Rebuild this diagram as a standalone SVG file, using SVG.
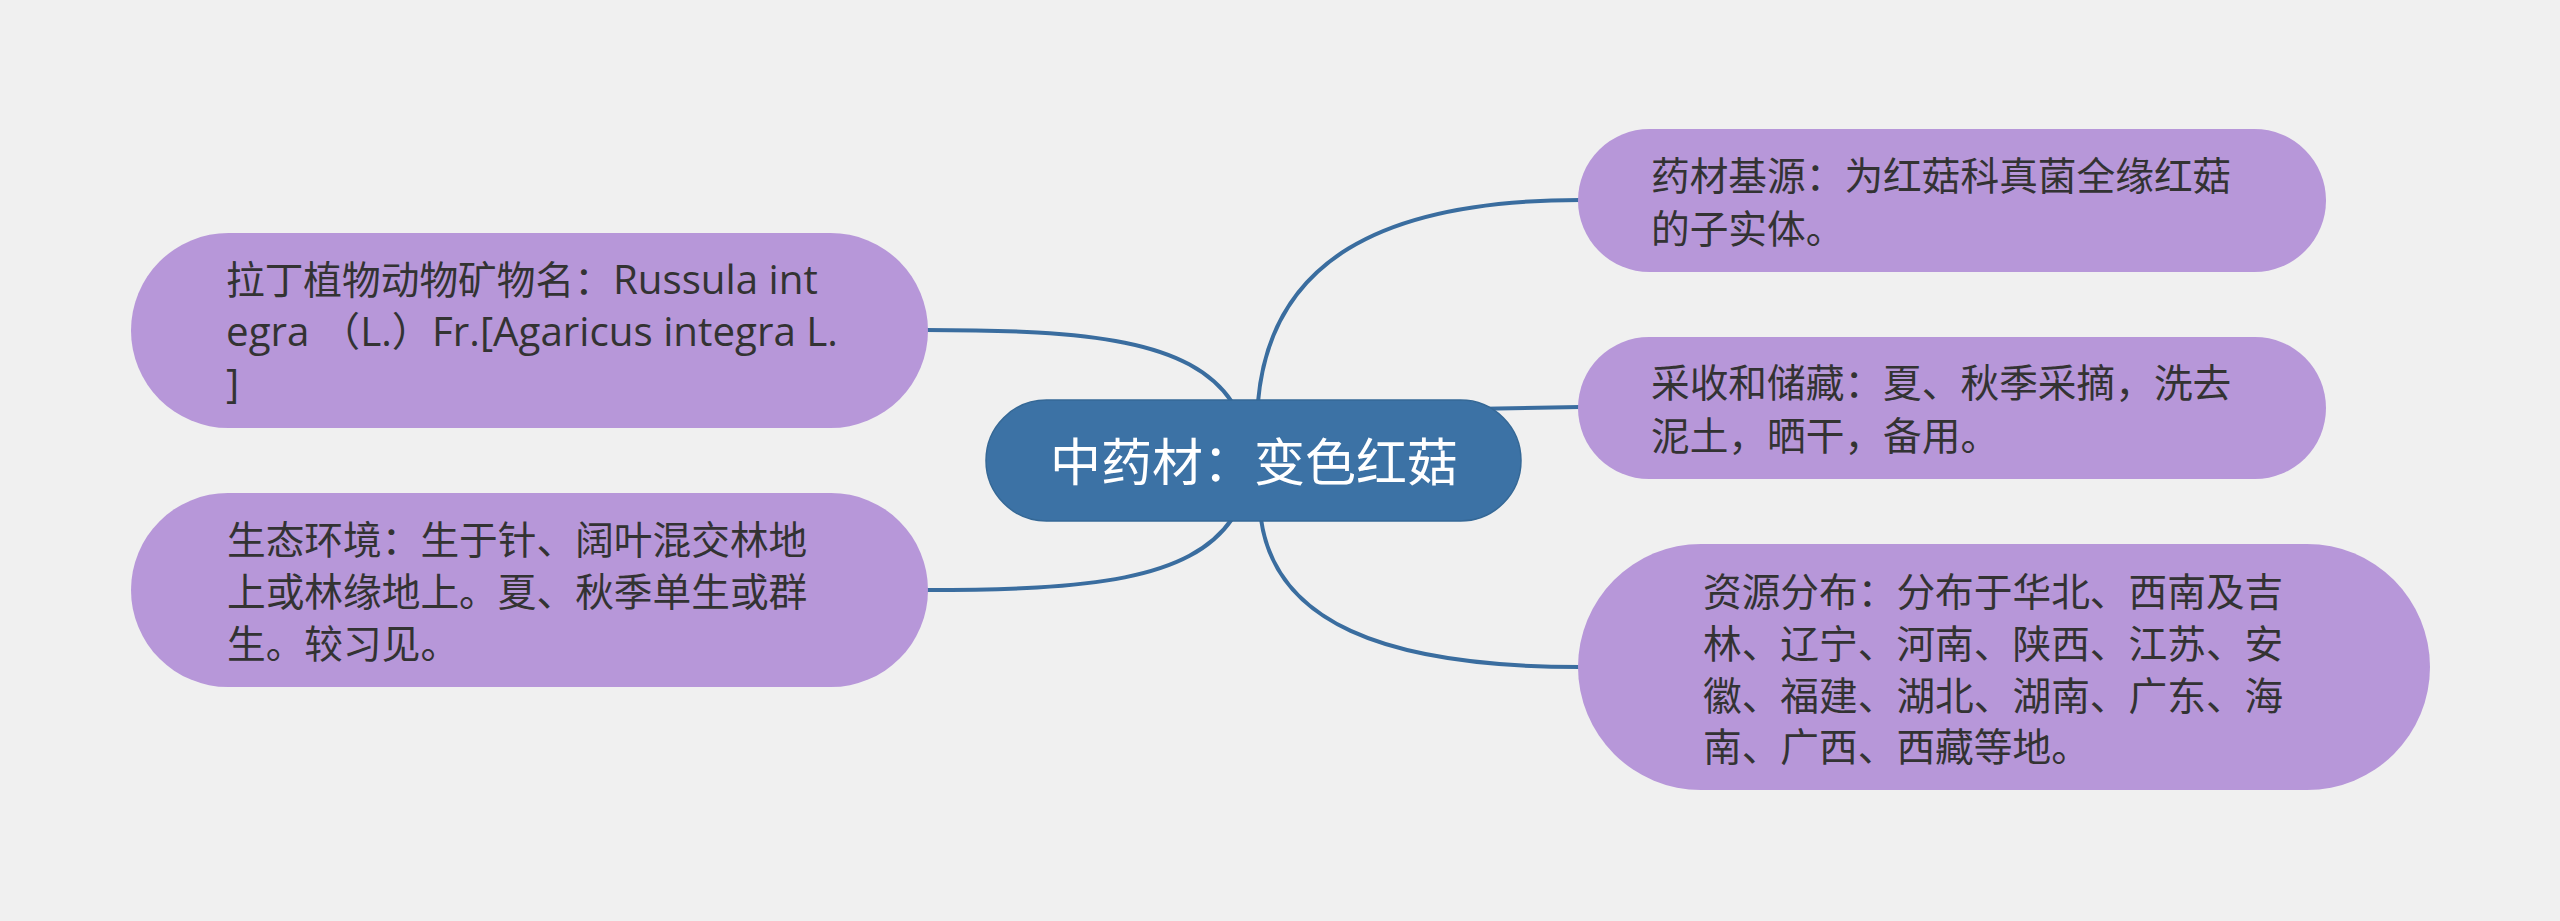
<svg xmlns="http://www.w3.org/2000/svg" width="2560" height="921" viewBox="0 0 2560 921">
<style>
.bg{fill:#f0f0f0}
.leaf{fill:#b797d9}
.root{fill:#3c72a5;stroke:#356896;stroke-width:1.5}
.t{font-family:"Open Sans","Noto Sans CJK SC",sans-serif;font-size:38.7px;fill:#333333}
.lat{font-size:40.3px}
.rt{font-family:"Noto Sans CJK SC",sans-serif;font-size:51px;fill:#ffffff}
.c{fill:none;stroke:#3a6d9f;stroke-width:4;stroke-linecap:round}
</style>
<rect class="bg" x="0" y="0" width="2560" height="921"/>
<g id="connectors">
<path class="c" d="M1258,402 C1270,262 1380,200 1580,200"/>
<path class="c" d="M1470,409 L1580,407"/>
<path class="c" d="M1261,519 C1275,620 1380,667 1580,667"/>
<path class="c" d="M1232,402 C1190,340 1090,330 926,330"/>
<path class="c" d="M1232,519 C1190,580 1090,590 926,590"/>
</g>
<g id="root">
<rect class="root" x="986" y="400" width="535" height="121" rx="60.5"/>
<text class="rt" x="1254" y="481" text-anchor="middle">中药材：变色红菇</text>
</g>
<g id="node-latin">
<rect class="leaf" x="131" y="233" width="797" height="195" rx="97.5"/>
<text class="t" x="226" y="294">拉丁植物动物矿物名：<tspan class="lat">Russula int</tspan></text>
<text class="t" x="226" y="346"><tspan class="lat">egra （L.）Fr.[Agaricus integra L.</tspan></text>
<text class="t" x="226" y="398"><tspan class="lat">]</tspan></text>
</g>
<g id="node-habitat">
<rect class="leaf" x="131" y="493" width="797" height="194" rx="97"/>
<text class="t" x="227" y="554">生态环境：生于针、阔叶混交林地</text>
<text class="t" x="227" y="606">上或林缘地上。夏、秋季单生或群</text>
<text class="t" x="227" y="658">生。较习见。</text>
</g>
<g id="node-source">
<rect class="leaf" x="1578" y="129" width="748" height="143" rx="71.5"/>
<text class="t" x="1651" y="190">药材基源：为红菇科真菌全缘红菇</text>
<text class="t" x="1651" y="243">的子实体。</text>
</g>
<g id="node-harvest">
<rect class="leaf" x="1578" y="337" width="748" height="142" rx="71"/>
<text class="t" x="1651" y="397">采收和储藏：夏、秋季采摘，洗去</text>
<text class="t" x="1651" y="450">泥土，晒干，备用。</text>
</g>
<g id="node-distribution">
<rect class="leaf" x="1578" y="544" width="852" height="246" rx="123"/>
<text class="t" x="1703" y="606">资源分布：分布于华北、西南及吉</text>
<text class="t" x="1703" y="658">林、辽宁、河南、陕西、江苏、安</text>
<text class="t" x="1703" y="710">徽、福建、湖北、湖南、广东、海</text>
<text class="t" x="1703" y="761">南、广西、西藏等地。</text>
</g>
</svg>
